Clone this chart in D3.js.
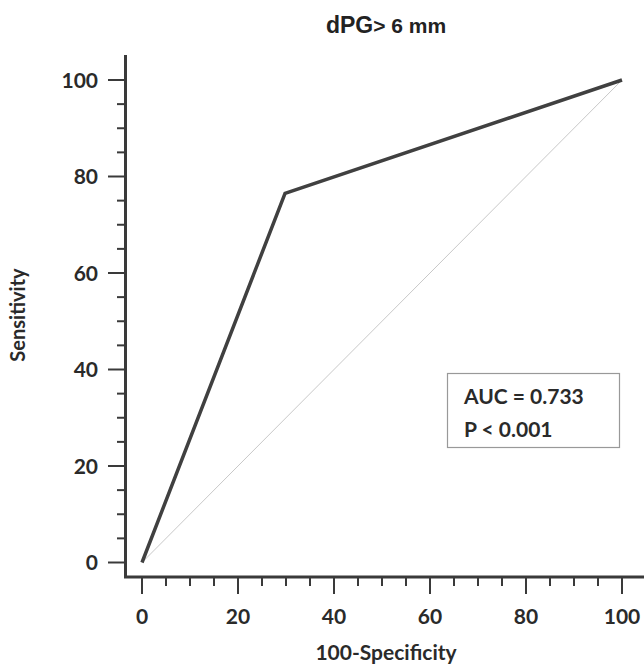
<!DOCTYPE html>
<html><head><meta charset="utf-8">
<script src="https://cdn.jsdelivr.net/npm/d3@7"></script>
<style>body{margin:0;background:#fff;} svg{display:block;}</style>
</head><body>
<script>
const rocX = [0, 29.8, 100];
const rocY = [0, 76.5, 100];
const diagX = [0, 100];
const diagY = [0, 100];
const tickValues = [0, 20, 40, 60, 80, 100];
const minorTicks = d3.range(0, 101, 5);
const title = ["dPG", "> 6 mm"];
const statLines = ["AUC = 0.733", "P < 0.001"];

const W = 644, H = 667;
const svg = d3.select("body").append("svg").attr("width", W).attr("height", H);
const font = "Lato, 'Open Sans', sans-serif";
const x = d3.scaleLinear().domain([0, 100]).range([142, 622]);
const y = d3.scaleLinear().domain([0, 100]).range([562.5, 80]);
const col = "#3a3a3a";

// axis lines
svg.append("line").attr("x1", 125.5).attr("x2", 125.5).attr("y1", 55).attr("y2", 578).attr("stroke", col).attr("stroke-width", 3);
svg.append("line").attr("x1", 124).attr("x2", 644).attr("y1", 577).attr("y2", 577).attr("stroke", col).attr("stroke-width", 3);

// ticks
minorTicks.forEach(v => {
  const major = v % 20 === 0;
  svg.append("line").attr("x1", major ? 108 : 117).attr("x2", 125).attr("y1", y(v)).attr("y2", y(v))
    .attr("stroke", col).attr("stroke-width", 2);
  svg.append("line").attr("y1", 577).attr("y2", major ? 594 : 586).attr("x1", x(v)).attr("x2", x(v))
    .attr("stroke", col).attr("stroke-width", 2);
});
tickValues.forEach(v => {
  svg.append("text").attr("x", 98).attr("y", y(v)).attr("dy", "0.36em").attr("text-anchor", "end")
    .attr("font-family", font).attr("font-weight", "bold").attr("font-size", 21).attr("fill", "#2a2a2a").text(v);
  svg.append("text").attr("x", x(v)).attr("y", 624).attr("text-anchor", "middle")
    .attr("font-family", font).attr("font-weight", "bold").attr("font-size", 21).attr("fill", "#2a2a2a").text(v);
});

// diagonal
const line = d3.line().x(d => x(d[0])).y(d => y(d[1]));
svg.append("path").attr("d", line(diagX.map((v, i) => [v, diagY[i]]))).attr("fill", "none")
  .attr("stroke", "#c8c8c8").attr("stroke-width", 1);
// ROC
svg.append("path").attr("d", line(rocX.map((v, i) => [v, rocY[i]]))).attr("fill", "none")
  .attr("stroke", "#404040").attr("stroke-width", 3.5).attr("stroke-linejoin", "miter");

// title
const t = svg.append("text").attr("x", 386).attr("y", 33).attr("text-anchor", "middle")
  .attr("font-family", "Arial, 'Liberation Sans', sans-serif").attr("font-weight", "bold").attr("fill", "#222");
t.append("tspan").attr("font-size", 23).text(title[0]);
t.append("tspan").attr("font-size", 21).text(title[1]);

// axis labels
svg.append("text").attr("transform", "translate(25,315) rotate(-90)").attr("text-anchor", "middle")
  .attr("font-family", font).attr("font-weight", "bold").attr("font-size", 20).attr("fill", "#2a2a2a").text("Sensitivity");
svg.append("text").attr("x", 386).attr("y", 660).attr("text-anchor", "middle")
  .attr("font-family", font).attr("font-weight", "bold").attr("font-size", 21).attr("fill", "#2a2a2a").text("100-Specificity");

// stat box
svg.append("rect").attr("x", 447.5).attr("y", 373.5).attr("width", 172).attr("height", 74)
  .attr("fill", "#fff").attr("stroke", "#999").attr("stroke-width", 1.2);
statLines.forEach((s, i) => {
  svg.append("text").attr("x", 464).attr("y", 404 + i * 33).attr("font-family", font).attr("font-weight", "bold")
    .attr("font-size", 21).attr("fill", "#2a2a2a").text(s);
});
</script>
</body></html>
